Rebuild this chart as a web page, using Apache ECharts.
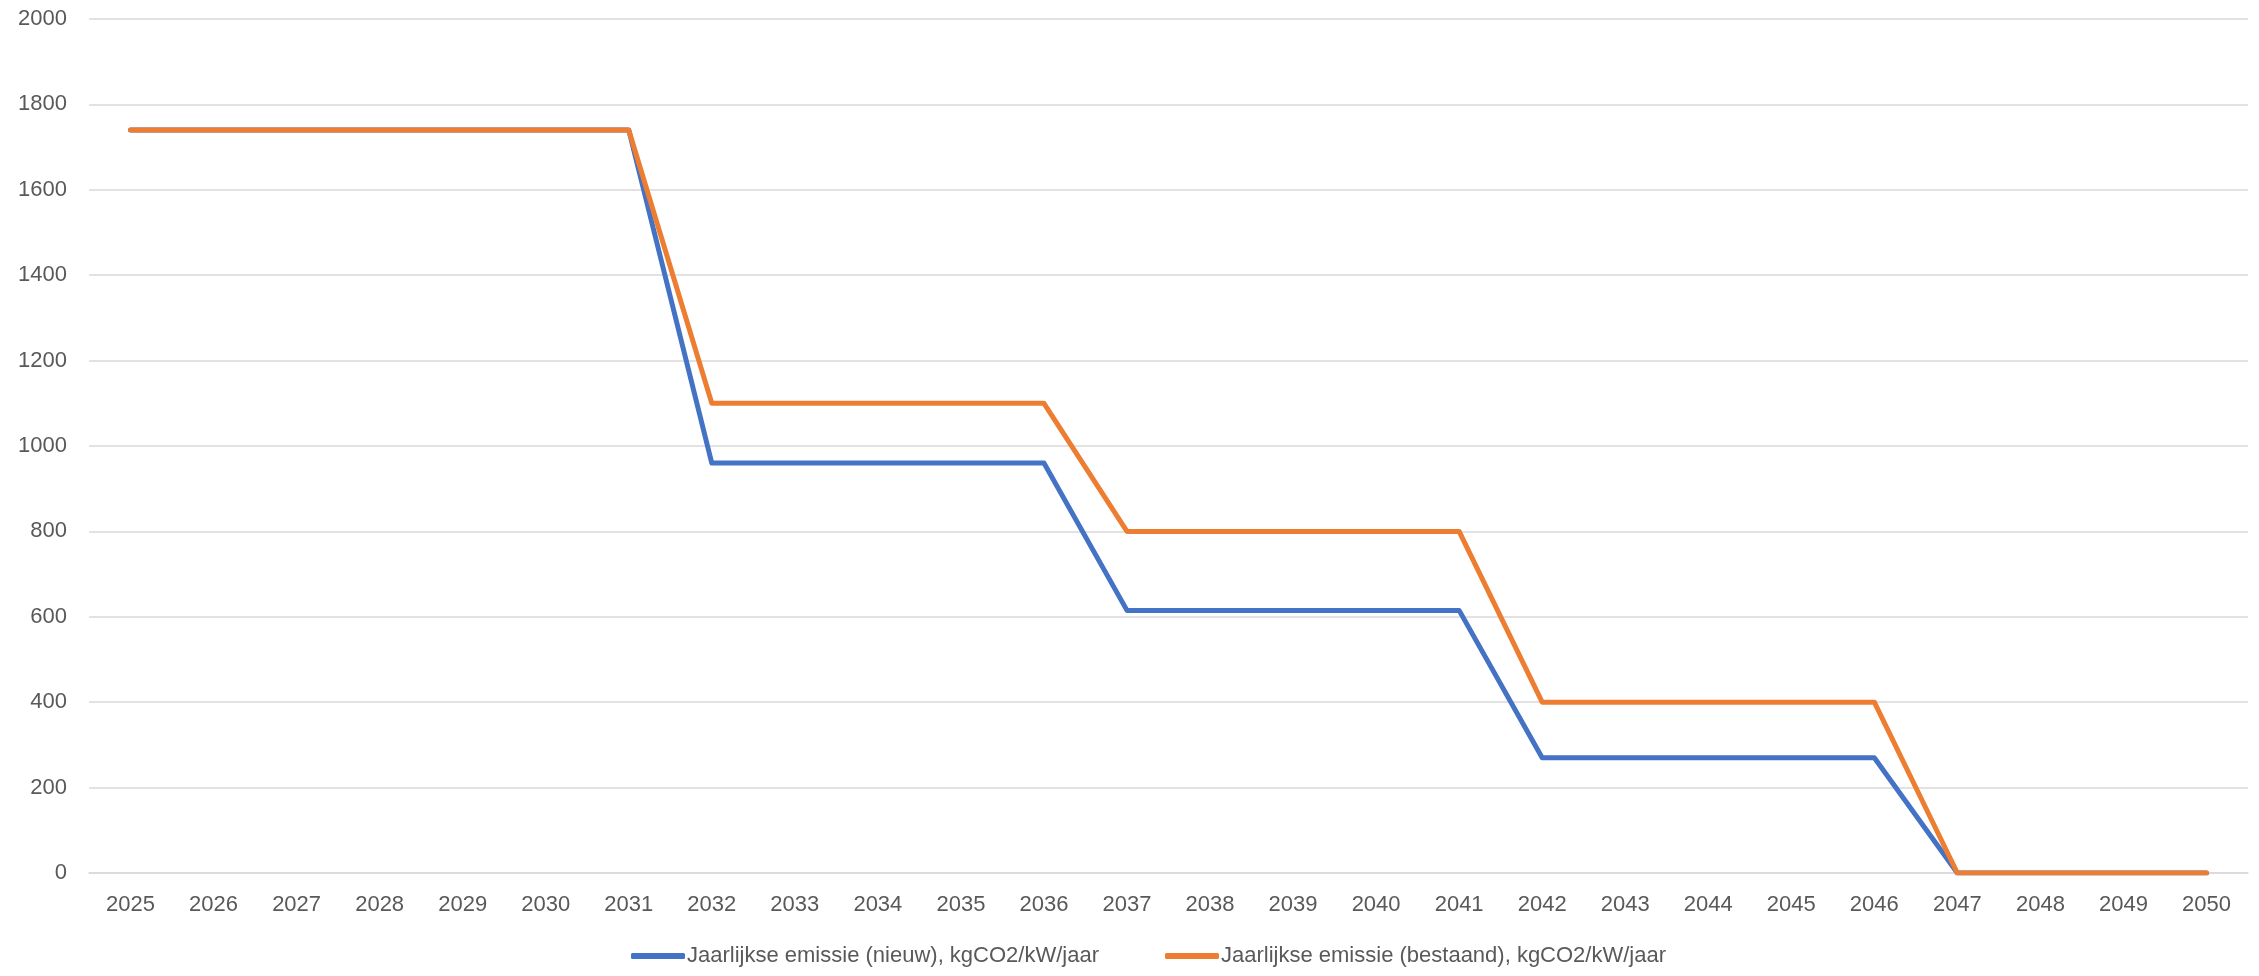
<!DOCTYPE html>
<html>
<head>
<meta charset="utf-8">
<title>Jaarlijkse emissie</title>
<script src="https://cdn.jsdelivr.net/npm/echarts@6/dist/echarts.min.js"></script>
<style>
  html, body { margin: 0; padding: 0; background: #fff; }
  #chart { width: 2259px; height: 976px; }
</style>
</head>
<body>
<div id="chart"></div>
<script>
const years = [
  '2025', '2026', '2027', '2028', '2029', '2030', '2031', '2032', '2033',
  '2034', '2035', '2036', '2037', '2038', '2039', '2040', '2041', '2042',
  '2043', '2044', '2045', '2046', '2047', '2048', '2049', '2050',
];
const nieuw = [
  1740, 1740, 1740, 1740, 1740, 1740, 1740, 960, 960, 960, 960, 960, 615,
  615, 615, 615, 615, 270, 270, 270, 270, 270, 0, 0, 0, 0,
];
const bestaand = [
  1740, 1740, 1740, 1740, 1740, 1740, 1740, 1100, 1100, 1100, 1100, 1100, 800,
  800, 800, 800, 800, 400, 400, 400, 400, 400, 0, 0, 0, 0,
];
const seriesNames = [
  'Jaarlijkse emissie (nieuw), kgCO2/kW/jaar',
  'Jaarlijkse emissie (bestaand), kgCO2/kW/jaar',
];

const textColor = '#595959';
const font = 'Liberation Sans';

const lineSerie = {
  type: 'line',
  showSymbol: false,
  symbol: 'none',
  lineStyle: { width: 5, cap: 'round', join: 'round' },
  emphasis: { disabled: true },
};

const myChart = echarts.init(document.getElementById('chart'));
myChart.setOption({
  animation: false,
  color: ['#4472C4', '#ED7D31'],
  grid: { left: 89, right: 11, top: 19, bottom: 103 },
  legend: {
    bottom: 4,
    left: 626,
    icon: 'roundRect',
    itemWidth: 54,
    itemHeight: 6,
    itemGap: 66,
    textStyle: { color: textColor, fontSize: 22, fontFamily: font, padding: [0, 0, 0, -3] },
  },
  xAxis: {
    type: 'category',
    data: years,
    boundaryGap: true,
    axisLine: { show: true, lineStyle: { color: '#D9D9D9', width: 1.5 } },
    axisTick: { show: false },
    axisLabel: { color: textColor, fontSize: 22, fontFamily: font, margin: 21, interval: 0 },
  },
  yAxis: {
    type: 'value',
    min: 0,
    max: 2000,
    interval: 200,
    axisLine: { show: false },
    axisTick: { show: false },
    axisLabel: {
      color: textColor,
      fontSize: 22,
      fontFamily: font,
      margin: 22,
      formatter: v => String(v),
    },
    splitLine: { show: true, lineStyle: { color: '#D9D9D9', width: 1.5 } },
  },
  series: [
    { ...lineSerie, name: seriesNames[0], data: nieuw },
    { ...lineSerie, name: seriesNames[1], data: bestaand },
  ],
});
</script>
</body>
</html>
